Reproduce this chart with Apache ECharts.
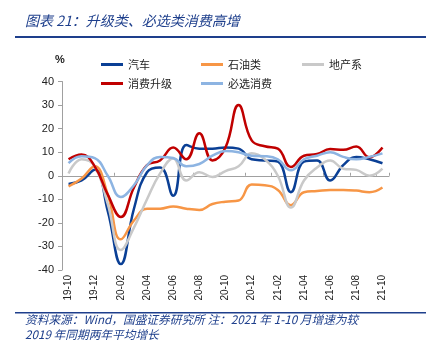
<!DOCTYPE html>
<html>
<head>
<meta charset="utf-8">
<script src="https://cdn.jsdelivr.net/npm/echarts@6/dist/echarts.min.js"></script>
<style>
html,body{margin:0;padding:0;background:#fff;}
#c{width:430px;height:348px;}
</style>
</head>
<body>
<div id="c"></div>
<script>
const months = ['19-10','19-11','19-12','20-01','20-02','20-03','20-04','20-05','20-06','20-07','20-08','20-09','20-10','20-11','20-12','21-01','21-02','21-03','21-04','21-05','21-06','21-07','21-08','21-09','21-10'];
const cars      = [-3.5,-2,2.5,-15,-37.5,-14,1.5,3.5,-8.5,13,11.5,11.5,12,11.5,7,6.5,6,-7,6,6.5,-2,4.5,8,7,5.3];
const oil       = [-4.5,-1.2,4,-8,-27,-19,-14,-14,-13,-14,-14.5,-12,-11,-10.5,-3.7,-4,-6,-12.5,-7,-6.5,-6,-6,-6.3,-7,-5];
const property  = [1,7,4,-12,-31.5,-22,-10,1,7.3,-2,1.5,-0.5,2,4,9.5,7,0,-13.5,-2,3.5,6.5,3,2.5,0,3];
const upgrade   = [7,9,4,-8,-17.5,-5,4.5,6.5,12,7,18,6.5,12,30,15,12.5,11.5,3.7,8.5,9.2,11.3,11,12.4,7.8,12];
const essential = [5.4,8.3,7.5,0,-9,-4,4.4,8,7.5,4,5,8.5,10.5,10,8.5,8.3,7,2.3,7,8.5,10,8,7,8,9.5];
const yTicks = {min:-40, max:40, interval:10};
const seriesNames = ['汽车','石油类','地产系','消费升级','必选消费'];
const seriesColors = ['#0a3f95','#f79646','#c9c9c9','#c00000','#8db4e2'];
const seriesData = [cars, oil, property, upgrade, essential];

const chart = echarts.init(document.getElementById('c'), null, {renderer:'canvas'});
const cjk = '"Noto Sans CJK SC", sans-serif';
const latin = '"Liberation Sans", Arial, sans-serif';

const legendPos = [[96,54],[196,54],[297,54],[96,73],[196,73]];
const legends = seriesNames.map((n,i)=>({
  data:[n], left:legendPos[i][0], top:legendPos[i][1], orient:'horizontal',
  icon:'rect', itemWidth:22, itemHeight:3, itemGap:0,
  textStyle:{fontFamily:cjk, fontSize:11, color:'#222'}
}));

const option = {
  animation:false,
  backgroundColor:'#fff',
  grid:{left:62, right:41, top:81.5, bottom:78},
  legend:legends,
  xAxis:[
    {type:'category', data:months, boundaryGap:true,
     axisLine:{onZero:true, lineStyle:{color:'#a0a0a0', width:1}},
     axisTick:{show:true, interval:1, inside:true, length:3, lineStyle:{color:'#a0a0a0'}},
     axisLabel:{show:false}, splitLine:{show:false}},
    {type:'category', data:months, boundaryGap:true, position:'bottom',
     axisLine:{show:false, onZero:false}, axisTick:{show:false},
     axisLabel:{show:true, interval:1, rotate:90, margin:5, fontFamily:latin, fontSize:10, color:'#222'},
     splitLine:{show:false}}
  ],
  yAxis:{type:'value', min:yTicks.min, max:yTicks.max, interval:yTicks.interval,
    axisLine:{show:true, lineStyle:{color:'#a0a0a0'}},
    axisTick:{show:true, inside:false, length:4, lineStyle:{color:'#a0a0a0'}},
    axisLabel:{fontFamily:latin, fontSize:11, color:'#222', margin:8},
    splitLine:{show:false}},
  series: seriesNames.map((n,i)=>({
    name:n, type:'line', data:seriesData[i], smooth:0.45, symbol:'none',
    lineStyle:{color:seriesColors[i], width:2.5}, itemStyle:{color:seriesColors[i]},
    xAxisIndex:0, z:2+i
  })),
  graphic:[
    {type:'text', left:25, top:14, style:{text:'图表 21：升级类、必选类消费高增', font:'italic 14px "Noto Sans CJK SC"', fill:'#1e3f8c'}},
    {type:'rect', shape:{x:15, y:36, width:411, height:2}, style:{fill:'#1e3f8c'}},
    {type:'text', left:55, top:54, style:{text:'%', font:'bold 11px "Liberation Sans", Arial', fill:'#222'}},
    {type:'rect', shape:{x:15, y:312, width:411, height:1.5}, style:{fill:'#1e3f8c'}},
    {type:'text', left:25, top:314, style:{text:'资料来源：Wind，国盛证券研究所 注：2021 年 1-10 月增速为较', font:'italic 11.7px "Noto Sans CJK SC"', fill:'#1e3f8c'}},
    {type:'text', left:25, top:329, style:{text:'2019 年同期两年平均增长', font:'italic 11.7px "Noto Sans CJK SC"', fill:'#1e3f8c'}}
  ]
};
chart.setOption(option);
</script>
</body>
</html>
